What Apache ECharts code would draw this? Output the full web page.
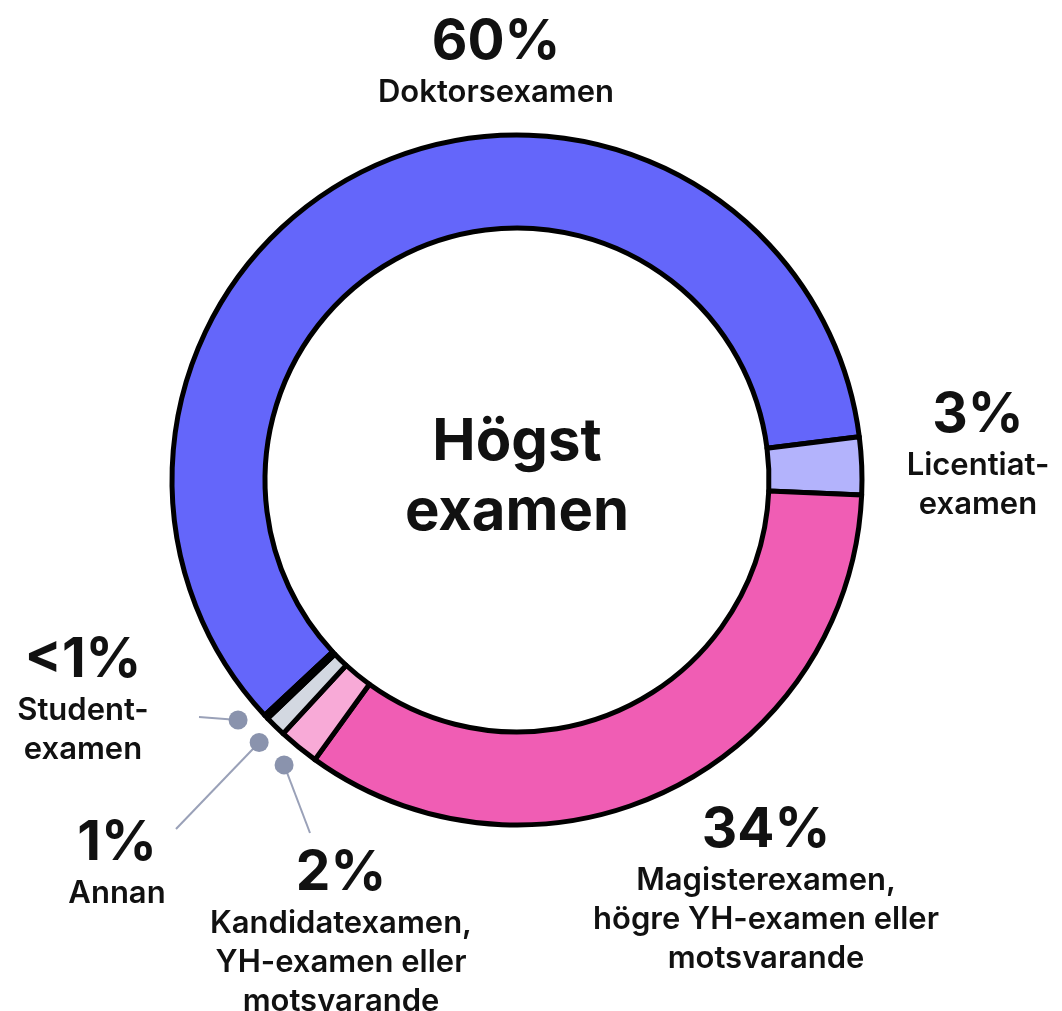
<!DOCTYPE html>
<html>
<head>
<meta charset="utf-8">
<title>Högst examen</title>
<script src="https://cdn.jsdelivr.net/npm/echarts@6/dist/echarts.min.js"></script>
<style>
	html, body { margin: 0; padding: 0; background: #fff; }
	#chart { width: 1062px; height: 1011px; }
</style>
</head>
<body>
<div id="chart"></div>
<script>
	// data, clockwise from the lower left
	const categories = ['Doktorsexamen', 'Licentiatexamen', 'Magisterexamen', 'Kandidatexamen', 'Annan', 'Studentexamen'];
	const values = [60.0, 2.7, 34.3, 1.9, 1.0, 0.2];
	const pctLabels = ['60%', '3%', '34%', '2%', '1%', '<1%'];
	const nameLines = [
		['Doktorsexamen'],
		['Licentiat-', 'examen'],
		['Magisterexamen,', 'högre YH-examen eller', 'motsvarande'],
		['Kandidatexamen,', 'YH-examen eller', 'motsvarande'],
		['Annan'],
		['Student-', 'examen']
	];
	const colors = ['#6466fa', '#b3b3fc', '#f05db4', '#f8aad7', '#d3d8e1', '#c9ced8'];

	// layout
	const cx = 517, cy = 480;
	const rInner = 252, rOuter = 345;
	const startAngle = 223;
	// label block: center x, top y
	const labelPos = [[496, 11], [978, 384], [766, 799], [341, 842], [117, 812], [83, 629]];
	// small slices get a dot + leader line, end point near the label
	const leaderEnds = { 3: [310, 833], 4: [176, 829], 5: [199, 717] };
	const dotRadius = rOuter + 23;

	const chartInstance = echarts.init(document.getElementById('chart'));

	const total = values.reduce((a, b) => a + b, 0);

	// screen angle (clockwise from 3 o'clock) of every slice's middle
	let cum = 0;
	const midAngles = values.map(v => {
		const a = (cum + v / 2) / total * 360 - startAngle;
		cum += v;
		return a;
	});

	// spread the dots of the tiny slices a bit so they don't overlap
	const dotIdx = Object.keys(leaderEnds).map(Number);
	const dotAngles = {};
	let prev = -Infinity;
	dotIdx.forEach(i => {
		const a = Math.max(midAngles[i], prev + 4.8);
		dotAngles[i] = a;
		prev = a;
	});

	const graphics = [];
	graphics.push({
		type: 'text',
		x: cx,
		y: cy - 2,
		style: {
			text: 'Högst\nexamen',
			align: 'center',
			verticalAlign: 'middle',
			font: '700 58px Inter',
			lineHeight: 70,
			fill: '#111'
		},
		z: 10
	});
	dotIdx.forEach(i => {
		const t = dotAngles[i] * Math.PI / 180;
		const dx = cx + dotRadius * Math.cos(t);
		const dy = cy + dotRadius * Math.sin(t);
		graphics.push({
			type: 'line',
			shape: { x1: dx, y1: dy, x2: leaderEnds[i][0], y2: leaderEnds[i][1] },
			style: { stroke: '#9aa1b8', lineWidth: 2 },
			z: 10
		});
		graphics.push({
			type: 'circle',
			shape: { cx: dx, cy: dy, r: 9.5 },
			style: { fill: '#8a93ad' },
			z: 11
		});
	});

	const seriesData = categories.map((name, i) => ({
		name: name,
		value: values[i],
		itemStyle: { color: colors[i] }
	}));

	const option = {
		animation: false,
		graphic: graphics,
		series: [
			{
				type: 'pie',
				center: [cx, cy],
				radius: [rInner, rOuter],
				startAngle: startAngle,
				clockwise: true,
				avoidLabelOverlap: false,
				itemStyle: {
					borderColor: '#000',
					borderWidth: 5
				},
				label: {
					show: true,
					position: 'outside',
					formatter: p => {
						const i = p.dataIndex;
						return '{p|' + pctLabels[i] + '}\n' + nameLines[i].map(s => '{n|' + s + '}').join('\n');
					},
					align: 'center',
					rich: {
						p: {
							fontFamily: 'Inter',
							fontWeight: 700,
							fontSize: 55,
							lineHeight: 62,
							color: '#111',
							align: 'center'
						},
						n: {
							fontFamily: 'Inter',
							fontWeight: 600,
							fontSize: 31,
							lineHeight: 39,
							color: '#111',
							align: 'center'
						}
					}
				},
				labelLine: { show: false },
				labelLayout: params => {
					const pos = labelPos[params.dataIndex];
					return {
						x: pos[0],
						y: pos[1],
						align: 'center',
						verticalAlign: 'top'
					};
				},
				emphasis: { disabled: true },
				data: seriesData
			}
		]
	};

	chartInstance.setOption(option);
</script>
</body>
</html>
